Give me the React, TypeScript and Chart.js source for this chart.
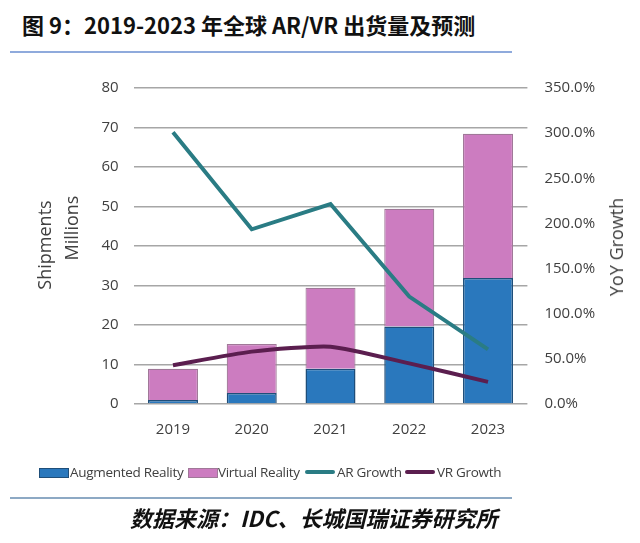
import React, { useEffect, useRef } from "react";
import { Chart, registerables } from "chart.js";

Chart.register(...registerables);

const categories = ["2019", "2020", "2021", "2022", "2023"];
const arShipments = [1.0, 2.8, 8.9, 19.6, 31.9];
const vrShipments = [7.9, 12.4, 20.5, 29.8, 36.5];
const arGrowth = [301, 193.5, 221.5, 119, 60.5];
const vrGrowth = [43, 58, 63.5, 45, 24.5];
const leftTicks = [0, 10, 20, 30, 40, 50, 60, 70, 80];
const rightTicks = [0, 50, 100, 150, 200, 250, 300, 350];

const AR_BLUE = "#2A78BD";
const AR_BORDER = "#1F4E79";
const VR_PINK = "#CC7CC0";
const VR_BORDER = "#A07898";
const AR_LINE = "#2A7C84";
const VR_LINE = "#5B1E4F";
const TXT = "#404040";
const FONT = "'Open Sans', 'Noto Sans', sans-serif";

export default function App() {
  const ref = useRef<HTMLCanvasElement | null>(null);

  useEffect(() => {
    if (!ref.current) return;
    const chart = new Chart(ref.current, {
      type: "bar",
      data: {
        labels: categories,
        datasets: [
          {
            type: "line",
            label: "AR Growth",
            data: arGrowth,
            yAxisID: "y1",
            borderColor: AR_LINE,
            backgroundColor: AR_LINE,
            borderWidth: 4,
            pointRadius: 0,
            tension: 0,
            order: 0,
          },
          {
            type: "line",
            label: "VR Growth",
            data: vrGrowth,
            yAxisID: "y1",
            borderColor: VR_LINE,
            backgroundColor: VR_LINE,
            borderWidth: 4,
            pointRadius: 0,
            tension: 0.2,
            order: 0,
          },
          {
            type: "bar",
            label: "Augmented Reality",
            data: arShipments,
            yAxisID: "y",
            backgroundColor: AR_BLUE,
            borderColor: AR_BORDER,
            borderWidth: 1.5,
            stack: "s",
            categoryPercentage: 1,
            barPercentage: 0.635,
            order: 1,
          },
          {
            type: "bar",
            label: "Virtual Reality",
            data: vrShipments,
            yAxisID: "y",
            backgroundColor: VR_PINK,
            borderColor: VR_BORDER,
            borderWidth: 1.2,
            stack: "s",
            categoryPercentage: 1,
            barPercentage: 0.635,
            order: 1,
          },
        ],
      },
      options: {
        animation: false,
        responsive: false,
        maintainAspectRatio: false,
        layout: { padding: { top: 11, left: 0, right: 0, bottom: 0 } },
        plugins: {
          legend: { display: false },
          tooltip: { enabled: false },
          title: { display: false },
        },
        scales: {
          x: {
            stacked: true,
            grid: { display: false, drawTicks: false },
            border: { display: false },
            ticks: { color: TXT, font: { family: FONT, size: 15 }, padding: 17 },
            afterFit: (s: any) => {
              s.height = 56;
            },
          },
          y: {
            stacked: true,
            position: "left",
            min: 0,
            max: 80,
            afterBuildTicks: (s: any) => {
              s.ticks = leftTicks.map((v) => ({ value: v }));
            },
            grid: { color: "#A6A6A6", lineWidth: 1.5, drawTicks: false },
            border: { display: false },
            ticks: { color: TXT, font: { family: FONT, size: 15 }, padding: 15 },
            afterFit: (s: any) => {
              s.width = 133.6;
            },
          },
          y1: {
            position: "right",
            min: 0,
            max: 350,
            afterBuildTicks: (s: any) => {
              s.ticks = rightTicks.map((v) => ({ value: v }));
            },
            grid: { display: false, drawTicks: false },
            border: { display: false },
            ticks: {
              color: TXT,
              font: { family: FONT, size: 15 },
              padding: 17,
              callback: (v: any) => Number(v).toFixed(1) + "%",
            },
            afterFit: (s: any) => {
              s.width = 112.6;
            },
          },
        },
      },
    });
    return () => chart.destroy();
  }, []);

  const legendItems = [
    { label: "Augmented Reality", kind: "box", color: AR_BLUE, border: AR_BORDER, x: 39, tx: 70 },
    { label: "Virtual Reality", kind: "box", color: VR_PINK, border: VR_BORDER, x: 188, tx: 218 },
    { label: "AR Growth", kind: "line", color: AR_LINE, border: AR_LINE, x: 305, tx: 337 },
    { label: "VR Growth", kind: "line", color: VR_LINE, border: VR_LINE, x: 405, tx: 437 },
  ];

  return (
    <div
      style={{
        position: "fixed",
        left: 0,
        top: 0,
        width: 640,
        height: 543,
        background: "#fff",
        overflow: "hidden",
        fontFamily: FONT,
      }}
    >
      <div
        style={{
          position: "absolute",
          left: 22,
          top: 12,
          fontFamily: "'Noto Sans CJK SC', sans-serif",
          fontWeight: 700,
          fontSize: 22,
          lineHeight: "24px",
          color: "#111",
          whiteSpace: "nowrap",
        }}
      >
        图 9：2019-2023 年全球 AR/VR 出货量及预测
      </div>
      <div style={{ position: "absolute", left: 10, top: 51, width: 502, height: 2, background: "#8FAADC" }} />

      <canvas ref={ref} width={640} height={398} style={{ position: "absolute", left: 0, top: 62, width: 640, height: 398 }} />

      <div
        style={{
          position: "absolute",
          left: 43.5,
          top: 245,
          transform: "translate(-50%, -50%) rotate(-90deg)",
          fontSize: 18,
          color: TXT,
          whiteSpace: "nowrap",
          lineHeight: "20px",
        }}
      >
        Shipments
      </div>
      <div
        style={{
          position: "absolute",
          left: 71,
          top: 228,
          transform: "translate(-50%, -50%) rotate(-90deg)",
          fontSize: 18,
          color: TXT,
          whiteSpace: "nowrap",
          lineHeight: "20px",
        }}
      >
        Millions
      </div>
      <div
        style={{
          position: "absolute",
          left: 616,
          top: 247,
          transform: "translate(-50%, -50%) rotate(-90deg)",
          fontSize: 18,
          color: TXT,
          whiteSpace: "nowrap",
          lineHeight: "20px",
        }}
      >
        YoY Growth
      </div>

      {legendItems.map((it) => (
        <React.Fragment key={it.label}>
          {it.kind === "box" ? (
            <div
              style={{
                position: "absolute",
                left: it.x,
                top: 468,
                width: 28,
                height: 8,
                background: it.color,
                border: `1.5px solid ${it.border}`,
              }}
            />
          ) : (
            <div
              style={{
                position: "absolute",
                left: it.x,
                top: 470,
                width: 30,
                height: 4,
                borderRadius: 2,
                background: it.color,
              }}
            />
          )}
          <div
            style={{
              position: "absolute",
              left: it.tx,
              top: 462,
              fontSize: 13.5,
              lineHeight: "20px",
              color: TXT,
              whiteSpace: "nowrap",
              letterSpacing: "-0.3px",
            }}
          >
            {it.label}
          </div>
        </React.Fragment>
      ))}

      <div style={{ position: "absolute", left: 10, top: 497, width: 502, height: 2, background: "#8DA9C4" }} />
      <div
        style={{
          position: "absolute",
          left: 130,
          top: 504,
          fontFamily: "'Noto Sans CJK SC', sans-serif",
          fontWeight: 700,
          fontStyle: "italic",
          fontSize: 22,
          lineHeight: "26px",
          color: "#111",
          whiteSpace: "nowrap",
        }}
      >
        数据来源：IDC、长城国瑞证券研究所
      </div>
    </div>
  );
}
